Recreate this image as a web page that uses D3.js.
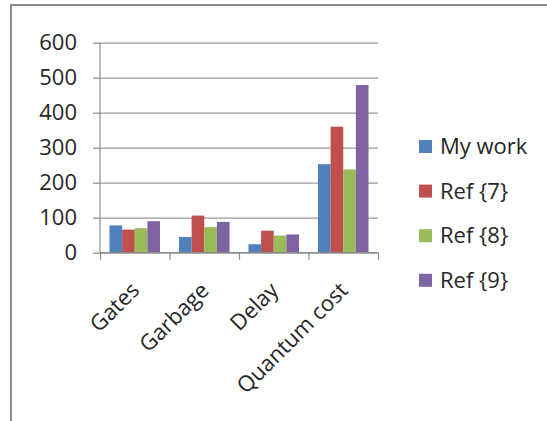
<!DOCTYPE html>
<html>
<head>
<meta charset="utf-8">
<script src="https://cdn.jsdelivr.net/npm/d3@7"></script>
<style>
  html, body { margin: 0; padding: 0; background: #fff; }
  svg { display: block; }
  text { font-family: "Open Sans", Lato, sans-serif; fill: #262626; }
</style>
</head>
<body>
<svg id="chart" width="547" height="421"></svg>
<script>
const categories = ["Gates", "Garbage", "Delay", "Quantum cost"];
const seriesNames = ["My work", "Ref {7}", "Ref {8}", "Ref {9}"];
const myWork = [78, 45, 24, 253];
const ref7   = [66, 106, 63, 360];
const ref8   = [70, 73, 49, 238];
const ref9   = [90, 88, 52, 479];
const yTicks = [0, 100, 200, 300, 400, 500, 600];
const colors = ["#4F81BD", "#C0504D", "#9BBB59", "#8064A2"];

const seriesValues = [myWork, ref7, ref8, ref9];
const FONT = "'Open Sans', Lato, sans-serif";

const svg = d3.select("#chart");

// outer frame
svg.append("rect")
  .attr("x", 11).attr("y", 5)
  .attr("width", 560).attr("height", 440)
  .attr("fill", "none")
  .attr("stroke", "#8c8c8c")
  .attr("stroke-width", 2);

const pLeft = 100, pRight = 378, pTop = 42.7, pBottom = 252.7;

const y = d3.scaleLinear().domain([0, 600]).range([pBottom, pTop]);
const x = d3.scaleBand().domain(categories).range([pLeft, pRight]).paddingInner(0).paddingOuter(0);
const groupW = x.bandwidth() * 4 / 5.5;
const xs = d3.scaleBand().domain(seriesNames).range([0, groupW]).padding(0);

// gridlines
const grid = svg.append("g").attr("transform", `translate(${pLeft},0)`)
  .call(d3.axisLeft(y).tickValues(yTicks).tickSize(-(pRight - pLeft)).tickFormat(""));
grid.select(".domain").remove();
grid.selectAll("line").attr("stroke", "#9a9a9a").attr("stroke-width", 1.2);

// bars
const data = [];
categories.forEach((c, i) => {
  seriesNames.forEach((s, j) => data.push({ c, s, j, v: seriesValues[j][i] }));
});
svg.append("g").selectAll("rect").data(data).join("rect")
  .attr("x", d => x(d.c) + (x.bandwidth() - groupW) / 2 + xs(d.s))
  .attr("y", d => y(d.v))
  .attr("width", xs.bandwidth())
  .attr("height", d => y(0) - y(d.v))
  .attr("fill", d => colors[d.j]);

// y axis
const yAxis = svg.append("g").attr("transform", `translate(${pLeft},0)`)
  .call(d3.axisLeft(y).tickValues(yTicks).tickSize(7).tickPadding(16));
yAxis.select(".domain").attr("stroke", "#8a8a8a").attr("stroke-width", 1.2).attr("d", `M0,${pTop}V${pBottom}`);
yAxis.selectAll("line").attr("stroke", "#8a8a8a").attr("stroke-width", 1.2);
yAxis.selectAll("text").style("font-size", "22px").attr("fill", "#262626")
  .style("font-family", FONT);

// x axis boundary ticks
const xEdge = d3.scaleLinear().domain([0, categories.length]).range([pLeft, pRight]);
const xAxis = svg.append("g").attr("transform", `translate(0,${pBottom})`)
  .call(d3.axisBottom(xEdge).tickValues(d3.range(categories.length + 1)).tickSize(7).tickFormat(""));
xAxis.select(".domain").attr("stroke", "#8a8a8a").attr("stroke-width", 1.2).attr("d", `M${pLeft},0H${pRight}`);
xAxis.selectAll("line").attr("stroke", "#8a8a8a").attr("stroke-width", 1.2);

// category labels
const xLab = svg.append("g").attr("transform", `translate(0,${pBottom})`)
  .call(d3.axisBottom(x).tickSize(0).tickFormat(d => d));
xLab.select(".domain").remove();
xLab.selectAll("text")
  .style("font-size", "22px")
  .style("font-family", FONT)
  .attr("fill", "#262626")
  .attr("text-anchor", "end")
  .attr("dy", "0")
  .attr("y", 0)
  .attr("transform", "translate(6,39) rotate(-45)");

// legend
const legend = svg.append("g");
seriesNames.forEach((s, j) => {
  const cy = 146.5 + j * 44.6;
  legend.append("rect")
    .attr("x", 419).attr("y", cy - 6.5)
    .attr("width", 13).attr("height", 13)
    .attr("fill", colors[j]);
  legend.append("text")
    .attr("x", 440).attr("y", cy)
    .attr("dy", "0.35em")
    .style("font-size", "22px")
    .style("font-family", FONT)
    .text(s);
});
</script>
</body>
</html>
